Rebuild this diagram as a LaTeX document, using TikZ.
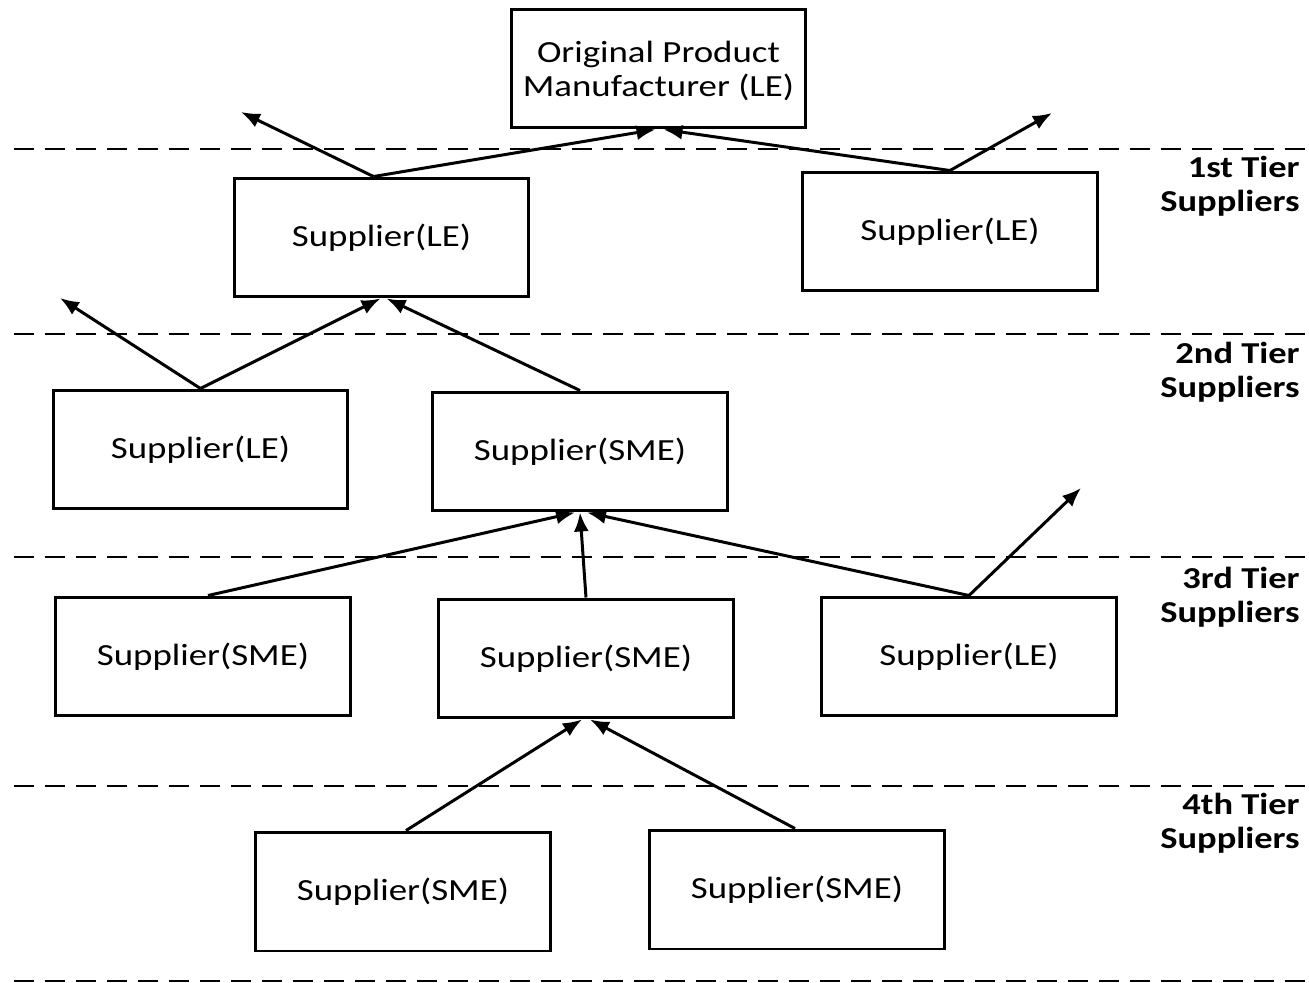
\documentclass[tikz,border=0pt]{standalone}
\usepackage{fontspec}
\setmainfont{Carlito}[FakeStretch=1.2]
\usetikzlibrary{arrows.meta}
\begin{document}
\begin{tikzpicture}[x=0.02cm,y=-0.02cm,
  box/.style={draw,line width=1.7pt,minimum width=5.9cm,minimum height=2.38cm,
    inner sep=0pt,align=center,font=\fontsize{17.5}{19.5}\selectfont},
  tierline/.style={line width=1.6pt,dash pattern=on 0.4cm off 0.22cm},
  tierlabel/.style={anchor=north east,align=right,inner sep=0pt,
    font=\fontsize{17.3}{19}\bfseries\selectfont},
  link/.style={line width=1.7pt,-{Latex[length=0.38cm,width=0.3cm]}}]
\useasboundingbox (0,0) rectangle (1309,983);

% tier separators
\foreach \yy in {149,334,557,786,981}
  \draw[tierline] (14,\yy) -- (1309,\yy);

% tier labels
\node[tierlabel] (lab1) at (1300,156) {1st Tier\\Suppliers};
\node[tierlabel] (lab2) at (1300,342) {2nd Tier\\Suppliers};
\node[tierlabel] (lab3) at (1300,567) {3rd Tier\\Suppliers};
\node[tierlabel] (lab4) at (1300,793) {4th Tier\\Suppliers};

% boxes
\node[box] (opm) at (658.5,68.5) {};
\node[font=\fontsize{17.5}{19.5}\selectfont,align=center,inner sep=0pt]
  (opmtext) at (658.5,71) {Original Product\\Manufacturer (LE)};
\node[box] (t1a) at (381.5,237.5) {Supplier(LE)};
\node[box] (t1b) at (950,231.5) {Supplier(LE)};
\node[box] (t2a) at (200.5,449.5) {Supplier(LE)};
\node[box] (t2b) at (580,451.5) {Supplier(SME)};
\node[box] (t3a) at (203,656.5) {Supplier(SME)};
\node[box] (t3b) at (586,658.5) {Supplier(SME)};
\node[box] (t3c) at (969,656.5) {Supplier(LE)};
\node[box] (t4a) at (403,891.5) {Supplier(SME)};
\node[box] (t4b) at (797,889.5) {Supplier(SME)};

% free arrow ends towards other customers
\coordinate (outa) at (241,112);
\coordinate (outb) at (1052,113);
\coordinate (outc) at (60,298);
\coordinate (outd) at (1081,488);

% supply links
\draw[link] ([xshift=-0.16cm]t1a.north) -- ([xshift=-0.06cm]opm.south);
\draw[link] ([xshift=-0.16cm]t1a.north) -- (outa);
\draw[link] (t1b.north) -- ([xshift=0.1cm]opm.south);
\draw[link] (t1b.north) -- (outb);
\draw[link] (t2a.north) -- ([xshift=-0.02cm]t1a.south);
\draw[link] (t2a.north) -- (outc);
\draw[link] (t2b.north) -- ([xshift=0.1cm]t1a.south);
\draw[link] ([xshift=0.1cm]t3a.north) -- ([xshift=-0.1cm]t2b.south);
\draw[link] (t3b.north) -- ([xshift=0cm]t2b.south);
\draw[link] (t3c.north) -- ([xshift=0.14cm]t2b.south);
\draw[link] (t3c.north) -- (outd);
\draw[link] ([xshift=0.06cm]t4a.north) -- ([xshift=-0.08cm]t3b.south);
\draw[link] ([xshift=-0.04cm]t4b.north) -- ([xshift=0.08cm]t3b.south);
\end{tikzpicture}
\end{document}
